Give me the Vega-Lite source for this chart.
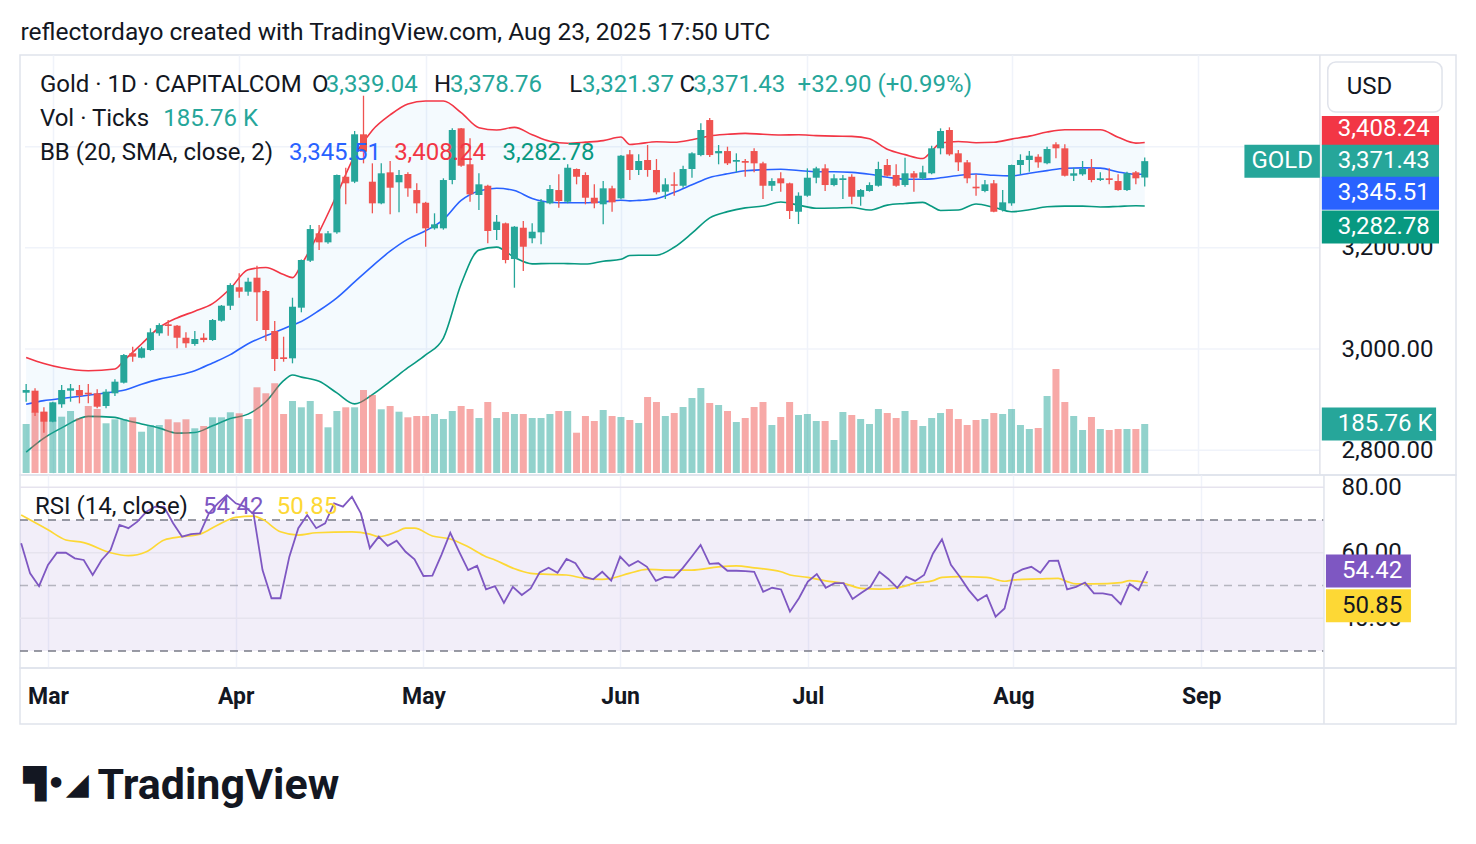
{
  "$schema": "https://vega.github.io/schema/vega-lite/v6.json",
  "background": "#ffffff",
  "padding": {"left": 18, "top": 20, "right": 20, "bottom": 20},
  "bounds": "flush",
  "title": {"text": "reflectordayo created with TradingView.com, Aug 23, 2025 17:50 UTC", "anchor": "start", "font": "Roboto", "fontSize": 24.5, "fontWeight": "normal", "color": "#131722", "offset": 8, "dx": 2},
  "config": {
    "view": {"stroke": "#e0e3eb", "strokeWidth": 1.5},
    "text": {"font": "Roboto", "fontSize": 24, "align": "left", "baseline": "middle"},
    "axis": {"labelFont": "Roboto", "titleFont": "Roboto"}
  },
  "datasets": {
    "one": [{}],
    "bars": [
      {"i":-3,"o":2913.6,"h":2930.8,"l":2895.8,"c":2918.9,"v":185.7,"r":62.9},
      {"i":-2,"o":2917.6,"h":2922.3,"l":2867.5,"c":2874.1,"v":232.3,"r":53.7},
      {"i":-1,"o":2876.0,"h":2884.7,"l":2834.5,"c":2856.3,"v":232.3,"r":49.8},
      {"i":0,"o":2856.3,"h":2895.5,"l":2855.0,"c":2894.6,"v":200.9,"r":56.3},
      {"i":1,"o":2890.7,"h":2928.8,"l":2884.0,"c":2918.9,"v":213.4,"r":60.0},
      {"i":2,"o":2917.6,"h":2930.8,"l":2895.8,"c":2922.3,"v":235.0,"r":60.0},
      {"i":3,"o":2918.9,"h":2928.8,"l":2892.6,"c":2907.7,"v":207.3,"r":58.3},
      {"i":4,"o":2913.6,"h":2930.8,"l":2892.6,"c":2910.4,"v":253.9,"r":57.8},
      {"i":5,"o":2912.4,"h":2920.3,"l":2882.8,"c":2885.9,"v":242.6,"r":53.2},
      {"i":6,"o":2887.3,"h":2920.3,"l":2882.8,"c":2915.6,"v":188.4,"r":57.8},
      {"i":7,"o":2912.4,"h":2940.1,"l":2907.1,"c":2935.4,"v":203.5,"r":60.8},
      {"i":8,"o":2933.4,"h":2990.1,"l":2931.8,"c":2988.1,"v":203.5,"r":68.5},
      {"i":9,"o":2991.5,"h":3004.5,"l":2974.9,"c":2984.8,"v":211.1,"r":67.5},
      {"i":10,"o":2982.8,"h":3004.5,"l":2981.6,"c":3001.4,"v":156.5,"r":69.5},
      {"i":11,"o":2998.0,"h":3040.9,"l":2996.5,"c":3033.0,"v":181.9,"r":72.5},
      {"i":12,"o":3031.0,"h":3050.8,"l":3026.3,"c":3047.4,"v":181.9,"r":74.1},
      {"i":13,"o":3048.8,"h":3057.3,"l":3026.3,"c":3045.5,"v":203.5,"r":73.9},
      {"i":14,"o":3046.1,"h":3047.4,"l":3001.4,"c":3022.3,"v":192.2,"r":69.0},
      {"i":15,"o":3022.3,"h":3033.0,"l":3002.6,"c":3011.3,"v":203.5,"r":64.9},
      {"i":16,"o":3009.9,"h":3035.6,"l":3006.5,"c":3019.8,"v":169.4,"r":65.7},
      {"i":17,"o":3022.3,"h":3031.0,"l":3013.2,"c":3017.8,"v":178.1,"r":65.9},
      {"i":18,"o":3017.8,"h":3059.3,"l":3016.0,"c":3057.3,"v":211.1,"r":72.0},
      {"i":19,"o":3056.0,"h":3087.0,"l":3054.0,"c":3085.6,"v":211.1,"r":75.1},
      {"i":20,"o":3085.6,"h":3129.9,"l":3077.1,"c":3126.5,"v":230.1,"r":77.6},
      {"i":21,"o":3122.0,"h":3149.7,"l":3101.4,"c":3113.3,"v":226.3,"r":75.1},
      {"i":22,"o":3113.3,"h":3141.0,"l":3105.4,"c":3133.1,"v":204.7,"r":74.1},
      {"i":23,"o":3141.0,"h":3164.7,"l":3055.4,"c":3112.1,"v":324.8,"r":71.8},
      {"i":24,"o":3114.7,"h":3116.6,"l":3015.8,"c":3037.6,"v":302.1,"r":54.7},
      {"i":25,"o":3035.6,"h":3055.4,"l":2956.5,"c":2980.2,"v":340.0,"r":46.1},
      {"i":26,"o":2983.6,"h":3024.3,"l":2974.9,"c":2980.2,"v":223.6,"r":46.1},
      {"i":27,"o":2981.6,"h":3101.4,"l":2971.7,"c":3083.6,"v":272.9,"r":58.8},
      {"i":28,"o":3081.7,"h":3177.0,"l":3072.6,"c":3176.0,"v":249.0,"r":67.5},
      {"i":29,"o":3174.6,"h":3245.1,"l":3172.0,"c":3237.2,"v":272.9,"r":71.5},
      {"i":30,"o":3228.7,"h":3245.1,"l":3195.7,"c":3210.9,"v":223.6,"r":67.5},
      {"i":31,"o":3210.9,"h":3233.3,"l":3208.0,"c":3228.7,"v":173.2,"r":69.0},
      {"i":32,"o":3230.7,"h":3345.0,"l":3228.0,"c":3344.0,"v":235.0,"r":75.1},
      {"i":33,"o":3340.6,"h":3358.4,"l":3286.1,"c":3327.6,"v":249.0,"r":74.1},
      {"i":34,"o":3330.8,"h":3431.0,"l":3328.0,"c":3424.5,"v":249.0,"r":77.1},
      {"i":35,"o":3424.5,"h":3500.8,"l":3367.1,"c":3390.1,"v":314.6,"r":72.0},
      {"i":36,"o":3330.8,"h":3367.1,"l":3268.3,"c":3288.0,"v":295.6,"r":61.4},
      {"i":37,"o":3288.0,"h":3367.1,"l":3286.0,"c":3347.4,"v":241.4,"r":64.9},
      {"i":38,"o":3349.3,"h":3371.7,"l":3266.3,"c":3318.9,"v":253.9,"r":62.1},
      {"i":39,"o":3329.6,"h":3353.9,"l":3270.3,"c":3344.0,"v":232.3,"r":63.7},
      {"i":40,"o":3346.0,"h":3349.3,"l":3301.1,"c":3317.7,"v":211.1,"r":60.3},
      {"i":41,"o":3314.3,"h":3327.6,"l":3268.3,"c":3288.0,"v":216.0,"r":58.0},
      {"i":42,"o":3289.2,"h":3291.0,"l":3202.2,"c":3238.6,"v":216.0,"r":52.9},
      {"i":43,"o":3238.6,"h":3268.3,"l":3236.0,"c":3246.5,"v":223.6,"r":53.0},
      {"i":44,"o":3238.6,"h":3337.5,"l":3236.0,"c":3334.1,"v":204.7,"r":59.3},
      {"i":45,"o":3334.1,"h":3436.3,"l":3325.6,"c":3433.0,"v":235.0,"r":66.1},
      {"i":46,"o":3436.3,"h":3437.0,"l":3360.4,"c":3362.4,"v":253.9,"r":60.3},
      {"i":47,"o":3365.2,"h":3416.5,"l":3291.2,"c":3305.8,"v":242.6,"r":54.7},
      {"i":48,"o":3304.5,"h":3347.4,"l":3274.8,"c":3325.6,"v":208.5,"r":56.0},
      {"i":49,"o":3322.8,"h":3325.0,"l":3209.0,"c":3233.3,"v":269.1,"r":48.8},
      {"i":50,"o":3235.3,"h":3264.9,"l":3215.5,"c":3251.7,"v":208.5,"r":49.8},
      {"i":51,"o":3248.5,"h":3250.0,"l":3169.4,"c":3176.0,"v":231.2,"r":44.7},
      {"i":52,"o":3177.9,"h":3243.0,"l":3121.2,"c":3241.8,"v":223.6,"r":49.6},
      {"i":53,"o":3239.8,"h":3253.1,"l":3154.2,"c":3202.2,"v":223.6,"r":47.1},
      {"i":54,"o":3218.9,"h":3248.5,"l":3209.0,"c":3231.9,"v":208.5,"r":49.1},
      {"i":55,"o":3230.7,"h":3296.6,"l":3207.0,"c":3291.2,"v":208.5,"r":54.0},
      {"i":56,"o":3288.0,"h":3324.2,"l":3286.0,"c":3316.3,"v":223.6,"r":55.4},
      {"i":57,"o":3314.3,"h":3345.4,"l":3279.3,"c":3292.6,"v":235.0,"r":53.9},
      {"i":58,"o":3291.2,"h":3365.2,"l":3288.0,"c":3358.4,"v":235.0,"r":58.1},
      {"i":59,"o":3355.9,"h":3357.0,"l":3325.6,"c":3340.6,"v":152.7,"r":56.8},
      {"i":60,"o":3344.0,"h":3349.3,"l":3286.1,"c":3299.1,"v":216.0,"r":52.7},
      {"i":61,"o":3299.1,"h":3325.6,"l":3278.2,"c":3288.0,"v":197.1,"r":51.9},
      {"i":62,"o":3286.1,"h":3332.1,"l":3246.5,"c":3317.7,"v":238.8,"r":54.2},
      {"i":63,"o":3317.7,"h":3322.8,"l":3271.4,"c":3290.0,"v":216.0,"r":51.5},
      {"i":64,"o":3297.9,"h":3383.5,"l":3296.0,"c":3382.2,"v":212.2,"r":58.8},
      {"i":65,"o":3384.9,"h":3393.4,"l":3334.1,"c":3353.9,"v":200.9,"r":56.0},
      {"i":66,"o":3353.9,"h":3384.9,"l":3344.0,"c":3371.7,"v":189.5,"r":57.5},
      {"i":67,"o":3373.7,"h":3403.3,"l":3340.6,"c":3353.9,"v":288.0,"r":55.7},
      {"i":68,"o":3353.9,"h":3375.6,"l":3305.8,"c":3309.8,"v":269.1,"r":51.4},
      {"i":69,"o":3311.0,"h":3337.5,"l":3296.6,"c":3325.6,"v":216.0,"r":52.6},
      {"i":70,"o":3325.6,"h":3349.3,"l":3303.1,"c":3322.8,"v":227.4,"r":52.4},
      {"i":71,"o":3322.8,"h":3362.4,"l":3318.9,"c":3355.9,"v":250.1,"r":55.3},
      {"i":72,"o":3355.9,"h":3388.9,"l":3338.7,"c":3386.9,"v":284.3,"r":58.8},
      {"i":73,"o":3383.5,"h":3446.2,"l":3381.0,"c":3433.0,"v":322.2,"r":62.4},
      {"i":74,"o":3452.7,"h":3456.7,"l":3379.6,"c":3383.5,"v":265.3,"r":56.6},
      {"i":75,"o":3386.9,"h":3403.3,"l":3365.2,"c":3391.4,"v":257.7,"r":56.8},
      {"i":76,"o":3391.4,"h":3400.0,"l":3363.8,"c":3367.1,"v":235.0,"r":54.5},
      {"i":77,"o":3370.3,"h":3386.9,"l":3349.3,"c":3373.7,"v":193.3,"r":54.5},
      {"i":78,"o":3371.7,"h":3375.6,"l":3340.6,"c":3368.3,"v":208.5,"r":54.4},
      {"i":79,"o":3391.4,"h":3396.8,"l":3349.3,"c":3367.1,"v":250.1,"r":54.2},
      {"i":80,"o":3367.1,"h":3370.3,"l":3296.6,"c":3322.8,"v":269.1,"r":48.1},
      {"i":81,"o":3322.8,"h":3337.5,"l":3312.4,"c":3332.1,"v":181.9,"r":49.3},
      {"i":82,"o":3337.5,"h":3349.3,"l":3311.0,"c":3327.6,"v":212.2,"r":48.8},
      {"i":83,"o":3327.6,"h":3329.0,"l":3257.0,"c":3272.8,"v":269.1,"r":42.0},
      {"i":84,"o":3271.4,"h":3309.8,"l":3247.1,"c":3303.1,"v":219.8,"r":46.1},
      {"i":85,"o":3303.1,"h":3357.2,"l":3301.0,"c":3338.7,"v":223.6,"r":51.2},
      {"i":86,"o":3338.7,"h":3360.4,"l":3327.6,"c":3357.2,"v":197.1,"r":53.5},
      {"i":87,"o":3357.2,"h":3365.2,"l":3312.4,"c":3324.2,"v":197.1,"r":49.3},
      {"i":88,"o":3324.2,"h":3345.4,"l":3322.0,"c":3337.5,"v":125.1,"r":50.7},
      {"i":89,"o":3334.1,"h":3344.0,"l":3296.6,"c":3337.5,"v":231.2,"r":50.7},
      {"i":90,"o":3340.6,"h":3345.4,"l":3286.1,"c":3301.1,"v":219.8,"r":45.9},
      {"i":91,"o":3301.1,"h":3316.3,"l":3283.3,"c":3314.3,"v":204.7,"r":47.8},
      {"i":92,"o":3312.4,"h":3329.6,"l":3311.0,"c":3324.2,"v":185.7,"r":49.6},
      {"i":93,"o":3322.8,"h":3370.3,"l":3321.0,"c":3355.9,"v":242.6,"r":54.2},
      {"i":94,"o":3363.8,"h":3375.6,"l":3341.0,"c":3342.6,"v":227.4,"r":52.0},
      {"i":95,"o":3344.0,"h":3365.2,"l":3320.9,"c":3322.8,"v":208.5,"r":49.3},
      {"i":96,"o":3324.2,"h":3378.2,"l":3320.9,"c":3347.4,"v":235.0,"r":52.7},
      {"i":97,"o":3347.4,"h":3351.9,"l":3311.0,"c":3338.7,"v":200.9,"r":51.4},
      {"i":98,"o":3337.5,"h":3362.4,"l":3334.1,"c":3349.3,"v":178.1,"r":53.2},
      {"i":99,"o":3347.4,"h":3401.9,"l":3345.4,"c":3396.8,"v":208.5,"r":59.8},
      {"i":100,"o":3396.8,"h":3436.3,"l":3384.9,"c":3431.0,"v":227.4,"r":64.1},
      {"i":101,"o":3433.0,"h":3438.3,"l":3382.2,"c":3384.9,"v":242.6,"r":56.3},
      {"i":102,"o":3386.9,"h":3393.4,"l":3351.9,"c":3369.1,"v":204.7,"r":52.7},
      {"i":103,"o":3369.1,"h":3373.7,"l":3327.6,"c":3337.5,"v":181.9,"r":48.6},
      {"i":104,"o":3320.9,"h":3345.4,"l":3303.1,"c":3317.7,"v":200.9,"r":45.4},
      {"i":105,"o":3312.4,"h":3334.1,"l":3309.8,"c":3325.6,"v":204.7,"r":47.1},
      {"i":106,"o":3327.6,"h":3334.1,"l":3270.3,"c":3271.4,"v":227.4,"r":40.5},
      {"i":107,"o":3274.8,"h":3314.3,"l":3272.0,"c":3290.0,"v":223.6,"r":43.0},
      {"i":108,"o":3288.0,"h":3364.5,"l":3283.3,"c":3363.8,"v":242.6,"r":53.5},
      {"i":109,"o":3363.8,"h":3384.9,"l":3345.4,"c":3373.7,"v":181.9,"r":54.9},
      {"i":110,"o":3373.7,"h":3391.4,"l":3350.5,"c":3382.2,"v":166.8,"r":55.7},
      {"i":111,"o":3380.2,"h":3384.9,"l":3358.4,"c":3369.1,"v":170.6,"r":53.9},
      {"i":112,"o":3367.1,"h":3400.0,"l":3365.2,"c":3395.4,"v":291.8,"r":57.5},
      {"i":113,"o":3404.7,"h":3408.6,"l":3377.0,"c":3396.8,"v":394.2,"r":57.6},
      {"i":114,"o":3396.8,"h":3404.7,"l":3341.0,"c":3342.6,"v":269.1,"r":48.8},
      {"i":115,"o":3342.6,"h":3358.4,"l":3332.1,"c":3347.4,"v":216.0,"r":49.6},
      {"i":116,"o":3345.4,"h":3371.7,"l":3342.6,"c":3355.9,"v":163.0,"r":50.9},
      {"i":117,"o":3357.2,"h":3375.6,"l":3329.6,"c":3334.1,"v":212.2,"r":47.6},
      {"i":118,"o":3334.1,"h":3349.3,"l":3332.1,"c":3337.5,"v":166.8,"r":47.6},
      {"i":119,"o":3337.5,"h":3357.2,"l":3325.6,"c":3334.1,"v":163.0,"r":47.1},
      {"i":120,"o":3332.1,"h":3345.4,"l":3313.0,"c":3314.3,"v":166.8,"r":44.3},
      {"i":121,"o":3314.3,"h":3350.5,"l":3312.4,"c":3347.4,"v":166.8,"r":50.5},
      {"i":122,"o":3349.3,"h":3351.9,"l":3325.6,"c":3337.5,"v":166.8,"r":48.6},
      {"i":123,"o":3339.04,"h":3378.76,"l":3321.37,"c":3371.43,"v":185.76,"r":54.42}
    ],
    "bands": [
      {"i":-3,"up":2983.2,"mid":2890.7,"lo":2796.0},
      {"i":-1,"up":2971.3,"mid":2898.0,"lo":2823.8},
      {"i":1,"up":2962.8,"mid":2902.1,"lo":2844.0},
      {"i":4,"up":2957.1,"mid":2908.7,"lo":2866.8},
      {"i":7,"up":2960.5,"mid":2915.6,"lo":2864.8},
      {"i":8,"up":2976.9,"mid":2918.5,"lo":2860.2},
      {"i":10,"up":3009.9,"mid":2930.4,"lo":2851.9},
      {"i":12,"up":3042.5,"mid":2940.5,"lo":2843.6},
      {"i":14,"up":3061.5,"mid":2947.6,"lo":2833.7},
      {"i":16,"up":3074.7,"mid":2957.1,"lo":2834.9},
      {"i":18,"up":3089.6,"mid":2972.5,"lo":2848.2},
      {"i":20,"up":3119.6,"mid":2988.9,"lo":2862.4},
      {"i":22,"up":3156.6,"mid":3010.5,"lo":2871.3},
      {"i":24,"up":3161.3,"mid":3026.1,"lo":2895.8},
      {"i":26,"up":3147.1,"mid":3040.1,"lo":2937.3},
      {"i":27,"up":3141.2,"mid":3047.3,"lo":2948.6},
      {"i":28,"up":3166.7,"mid":3054.4,"lo":2944.4},
      {"i":30,"up":3231.3,"mid":3076.1,"lo":2936.1},
      {"i":32,"up":3305.2,"mid":3101.2,"lo":2913.2},
      {"i":34,"up":3382.2,"mid":3132.7,"lo":2891.5},
      {"i":36,"up":3432.6,"mid":3163.9,"lo":2909.7},
      {"i":38,"up":3462.8,"mid":3193.4,"lo":2935.9},
      {"i":40,"up":3484.6,"mid":3217.3,"lo":2963.0},
      {"i":42,"up":3490.3,"mid":3233.7,"lo":2988.3},
      {"i":44,"up":3490.3,"mid":3255.8,"lo":3021.7},
      {"i":46,"up":3467.4,"mid":3293.8,"lo":3128.5},
      {"i":48,"up":3437.5,"mid":3312.6,"lo":3195.5},
      {"i":50,"up":3433.0,"mid":3317.7,"lo":3201.5},
      {"i":52,"up":3438.3,"mid":3313.2,"lo":3181.1},
      {"i":54,"up":3423.7,"mid":3297.5,"lo":3168.4},
      {"i":56,"up":3410.6,"mid":3290.2,"lo":3169.2},
      {"i":58,"up":3406.9,"mid":3289.2,"lo":3168.8},
      {"i":60,"up":3409.0,"mid":3289.2,"lo":3168.2},
      {"i":62,"up":3412.0,"mid":3291.0,"lo":3173.6},
      {"i":64,"up":3419.1,"mid":3294.2,"lo":3177.3},
      {"i":65,"up":3404.3,"mid":3292.8,"lo":3185.0},
      {"i":66,"up":3405.9,"mid":3293.8,"lo":3185.4},
      {"i":68,"up":3409.8,"mid":3297.3,"lo":3185.4},
      {"i":70,"up":3408.8,"mid":3309.8,"lo":3201.1},
      {"i":72,"up":3413.8,"mid":3324.6,"lo":3228.9},
      {"i":74,"up":3421.3,"mid":3339.3,"lo":3259.4},
      {"i":76,"up":3424.5,"mid":3346.4,"lo":3271.6},
      {"i":78,"up":3426.4,"mid":3352.5,"lo":3279.1},
      {"i":80,"up":3424.5,"mid":3354.5,"lo":3282.7},
      {"i":82,"up":3423.1,"mid":3355.3,"lo":3290.6},
      {"i":84,"up":3423.7,"mid":3352.9,"lo":3284.5},
      {"i":86,"up":3421.9,"mid":3350.5,"lo":3278.4},
      {"i":88,"up":3420.9,"mid":3350.5,"lo":3278.8},
      {"i":90,"up":3420.5,"mid":3349.3,"lo":3279.7},
      {"i":92,"up":3415.6,"mid":3345.4,"lo":3274.8},
      {"i":94,"up":3394.8,"mid":3339.5,"lo":3284.5},
      {"i":96,"up":3384.3,"mid":3335.5,"lo":3287.7},
      {"i":98,"up":3376.6,"mid":3335.5,"lo":3290.0},
      {"i":99,"up":3391.4,"mid":3336.3,"lo":3282.1},
      {"i":100,"up":3407.3,"mid":3338.5,"lo":3274.0},
      {"i":102,"up":3410.4,"mid":3343.0,"lo":3274.8},
      {"i":104,"up":3407.9,"mid":3346.0,"lo":3286.7},
      {"i":106,"up":3408.8,"mid":3343.4,"lo":3280.1},
      {"i":108,"up":3415.0,"mid":3342.4,"lo":3271.4},
      {"i":110,"up":3420.9,"mid":3347.4,"lo":3275.2},
      {"i":112,"up":3429.0,"mid":3352.7,"lo":3281.3},
      {"i":114,"up":3433.6,"mid":3357.4,"lo":3282.5},
      {"i":116,"up":3433.6,"mid":3358.2,"lo":3282.5},
      {"i":118,"up":3433.6,"mid":3357.6,"lo":3280.9},
      {"i":120,"up":3418.7,"mid":3350.1,"lo":3281.9},
      {"i":122,"up":3407.1,"mid":3345.4,"lo":3283.1},
      {"i":123,"up":3408.24,"mid":3345.51,"lo":3282.78}
    ],
    "rsima": [
      {"i":-3,"m":71.5},{"i":0,"m":67.0},{"i":2,"m":63.9},{"i":4,"m":63.1},{"i":7,"m":60.0},
      {"i":9,"m":59.1},{"i":11,"m":60.3},{"i":13,"m":63.9},{"i":15,"m":64.9},{"i":17,"m":65.7},
      {"i":19,"m":68.5},{"i":21,"m":70.8},{"i":23,"m":71.2},{"i":24,"m":70.2},{"i":26,"m":66.4},
      {"i":28,"m":65.4},{"i":30,"m":66.1},{"i":34,"m":66.4},{"i":36,"m":65.7},{"i":37,"m":64.9},
      {"i":39,"m":66.4},{"i":40,"m":67.5},{"i":41,"m":67.5},{"i":43,"m":65.1},{"i":45,"m":64.2},
      {"i":47,"m":61.8},{"i":49,"m":58.8},{"i":50,"m":57.8},{"i":52,"m":55.3},{"i":54,"m":53.7},
      {"i":56,"m":53.4},{"i":58,"m":53.2},{"i":60,"m":52.2},{"i":62,"m":51.9},{"i":63,"m":52.2},
      {"i":65,"m":53.7},{"i":67,"m":54.9},{"i":70,"m":54.7},{"i":72,"m":54.7},{"i":75,"m":55.7},
      {"i":77,"m":56.0},{"i":79,"m":55.4},{"i":82,"m":54.2},{"i":83,"m":53.2},{"i":85,"m":52.5},
      {"i":87,"m":51.4},{"i":89,"m":50.7},{"i":91,"m":49.1},{"i":93,"m":48.9},{"i":95,"m":49.3},
      {"i":97,"m":50.7},{"i":99,"m":51.5},{"i":100,"m":52.5},{"i":102,"m":52.7},{"i":105,"m":52.5},
      {"i":107,"m":51.3},{"i":108,"m":51.7},{"i":111,"m":52.0},{"i":113,"m":52.2},{"i":114,"m":51.2},
      {"i":115,"m":50.5},{"i":117,"m":50.5},{"i":120,"m":50.9},{"i":121,"m":51.5},{"i":123,"m":50.85}
    ],
    "priceTicks": [{"p":2800},{"p":3000},{"p":3200},{"p":3400}],
    "rsiTicks": [{"g":40},{"g":60},{"g":80}]
  },
  "spacing": 0,
  "vconcat": [
    {
      "width": 1436,
      "height": 420,
      "resolve": {"scale": {"y": "independent"}},
      "layer": [
        {
          "layer": [
            {
              "data": {"name": "priceTicks"},
              "mark": {"type": "rule", "color": "#f0f3fa", "strokeWidth": 1.5},
              "encoding": {
                "x": {"datum": -3.13, "scale": {"domain": [-3.13, 157.5], "nice": false, "zero": false},
                      "axis": {"values": [0, 21, 42, 64, 85, 108, 129], "grid": true, "gridColor": "#f0f3fa", "gridWidth": 1.5, "labels": false, "ticks": false, "domain": false, "title": null}},
                "x2": {"datum": 142.73},
                "y": {"field": "p", "type": "quantitative", "title": null,
                      "scale": {"domain": [2750.9, 3581.3], "nice": false, "zero": false},
                      "axis": {"orient": "right", "offset": -132, "values": [2800, 3000, 3200, 3400], "format": ",.2f", "grid": false, "ticks": false, "tickSize": 0, "domain": false, "labelPadding": 17, "labelFontSize": 24, "labelColor": "#131722", "title": null}}
              }
            },
            {
              "data": {"name": "bands"},
              "mark": {"type": "area", "color": "#2196f3", "opacity": 0.05, "interpolate": "monotone", "clip": true},
              "encoding": {
                "x": {"field": "i", "type": "quantitative"},
                "y": {"field": "up", "type": "quantitative", "title": null, "scale": {"domain": [2750.9, 3581.3], "nice": false, "zero": false}},
                "y2": {"field": "lo"}
              }
            },
            {
              "data": {"name": "bands"},
              "mark": {"type": "line", "color": "#f23645", "strokeWidth": 1.6, "interpolate": "monotone", "clip": true},
              "encoding": {"x": {"field": "i", "type": "quantitative"}, "y": {"field": "up", "type": "quantitative", "title": null}}
            },
            {
              "data": {"name": "bands"},
              "mark": {"type": "line", "color": "#2962ff", "strokeWidth": 1.6, "interpolate": "monotone", "clip": true},
              "encoding": {"x": {"field": "i", "type": "quantitative"}, "y": {"field": "mid", "type": "quantitative", "title": null}}
            },
            {
              "data": {"name": "bands"},
              "mark": {"type": "line", "color": "#089981", "strokeWidth": 1.6, "interpolate": "monotone", "clip": true},
              "encoding": {"x": {"field": "i", "type": "quantitative"}, "y": {"field": "lo", "type": "quantitative", "title": null}}
            }
          ]
        },
        {
          "layer": [
            {
              "data": {"name": "bars"},
              "mark": {"type": "bar", "size": 7, "opacity": 0.5, "clip": true},
              "encoding": {
                "x": {"field": "i", "type": "quantitative"},
                "y": {"field": "v", "type": "quantitative", "title": null, "axis": null,
                      "scale": {"domain": [-7.58, 1584.2], "nice": false, "zero": false}},
                "color": {"condition": {"test": "datum.c >= datum.o", "value": "#26a69a"}, "value": "#ef5350"}
              }
            },
            {
              "data": {"name": "one"},
              "mark": {"type": "rule", "color": "#26a69a", "strokeWidth": 33},
              "encoding": {"x": {"datum": 142.95}, "x2": {"datum": 155.82}, "y": {"datum": 185.76}}
            },
            {
              "data": {"name": "one"},
              "mark": {"type": "text", "text": "185.76 K", "color": "#ffffff"},
              "encoding": {"x": {"datum": 144.74}, "y": {"datum": 185.76}}
            }
          ]
        },
        {
          "layer": [
            {
              "data": {"name": "bars"},
              "mark": {"type": "rule", "strokeWidth": 1.3, "clip": true},
              "encoding": {
                "x": {"field": "i", "type": "quantitative"},
                "y": {"field": "l", "type": "quantitative", "title": null, "axis": null,
                      "scale": {"domain": [2750.9, 3581.3], "nice": false, "zero": false}},
                "y2": {"field": "h"},
                "color": {"condition": {"test": "datum.c >= datum.o", "value": "#26a69a"}, "value": "#ef5350"}
              }
            },
            {
              "data": {"name": "bars"},
              "mark": {"type": "bar", "size": 7, "clip": true},
              "encoding": {
                "x": {"field": "i", "type": "quantitative"},
                "y": {"field": "o", "type": "quantitative", "title": null},
                "y2": {"field": "c"},
                "color": {"condition": {"test": "datum.c >= datum.o", "value": "#26a69a"}, "value": "#ef5350"}
              }
            },
            {"data": {"name": "one"}, "mark": {"type": "rule", "color": "#e0e3eb", "strokeWidth": 1.5}, "encoding": {"x": {"datum": 142.73}}},
            {"data": {"name": "one"}, "mark": {"type": "text", "text": "Gold · 1D · CAPITALCOM", "color": "#131722"}, "encoding": {"x": {"datum": -1.45}, "y": {"datum": 3521.9}}},
            {"data": {"name": "one"}, "mark": {"type": "text", "text": "O", "color": "#131722"}, "encoding": {"x": {"datum": 29.19}, "y": {"datum": 3521.9}}},
            {"data": {"name": "one"}, "mark": {"type": "text", "text": "3,339.04", "color": "#26a69a"}, "encoding": {"x": {"datum": 30.76}, "y": {"datum": 3521.9}}},
            {"data": {"name": "one"}, "mark": {"type": "text", "text": "H", "color": "#131722"}, "encoding": {"x": {"datum": 42.95}, "y": {"datum": 3521.9}}},
            {"data": {"name": "one"}, "mark": {"type": "text", "text": "3,378.76", "color": "#26a69a"}, "encoding": {"x": {"datum": 44.74}, "y": {"datum": 3521.9}}},
            {"data": {"name": "one"}, "mark": {"type": "text", "text": "L", "color": "#131722"}, "encoding": {"x": {"datum": 58.17}, "y": {"datum": 3521.9}}},
            {"data": {"name": "one"}, "mark": {"type": "text", "text": "3,321.37", "color": "#26a69a"}, "encoding": {"x": {"datum": 59.62}, "y": {"datum": 3521.9}}},
            {"data": {"name": "one"}, "mark": {"type": "text", "text": "C", "color": "#131722"}, "encoding": {"x": {"datum": 70.6}, "y": {"datum": 3521.9}}},
            {"data": {"name": "one"}, "mark": {"type": "text", "text": "3,371.43", "color": "#26a69a"}, "encoding": {"x": {"datum": 72.15}, "y": {"datum": 3521.9}}},
            {"data": {"name": "one"}, "mark": {"type": "text", "text": "+32.90 (+0.99%)", "color": "#26a69a"}, "encoding": {"x": {"datum": 83.9}, "y": {"datum": 3521.9}}},
            {"data": {"name": "one"}, "mark": {"type": "text", "text": "Vol · Ticks", "color": "#131722"}, "encoding": {"x": {"datum": -1.45}, "y": {"datum": 3454.7}}},
            {"data": {"name": "one"}, "mark": {"type": "text", "text": "185.76 K", "color": "#26a69a"}, "encoding": {"x": {"datum": 12.45}, "y": {"datum": 3454.7}}},
            {"data": {"name": "one"}, "mark": {"type": "text", "text": "BB (20, SMA, close, 2)", "color": "#131722"}, "encoding": {"x": {"datum": -1.45}, "y": {"datum": 3387.5}}},
            {"data": {"name": "one"}, "mark": {"type": "text", "text": "3,345.51", "color": "#2962ff"}, "encoding": {"x": {"datum": 26.6}, "y": {"datum": 3387.5}}},
            {"data": {"name": "one"}, "mark": {"type": "text", "text": "3,408.24", "color": "#f23645"}, "encoding": {"x": {"datum": 38.45}, "y": {"datum": 3387.5}}},
            {"data": {"name": "one"}, "mark": {"type": "text", "text": "3,282.78", "color": "#089981"}, "encoding": {"x": {"datum": 50.65}, "y": {"datum": 3387.5}}},
            {"data": {"name": "one"}, "mark": {"type": "rule", "color": "#26a69a", "strokeWidth": 33}, "encoding": {"x": {"datum": 134.23}, "x2": {"datum": 142.73}, "y": {"datum": 3371.43}}},
            {"data": {"name": "one"}, "mark": {"type": "text", "text": "GOLD", "color": "#ffffff", "align": "center"}, "encoding": {"x": {"datum": 138.48}, "y": {"datum": 3371.43}}},
            {"data": {"name": "one"}, "mark": {"type": "rule", "color": "#f23645", "strokeWidth": 29, "yOffset": -12}, "encoding": {"x": {"datum": 142.95}, "x2": {"datum": 156.15}, "y": {"datum": 3408.24}}},
            {"data": {"name": "one"}, "mark": {"type": "text", "text": "3,408.24", "color": "#ffffff", "yOffset": -14}, "encoding": {"x": {"datum": 144.74}, "y": {"datum": 3408.24}}},
            {"data": {"name": "one"}, "mark": {"type": "rule", "color": "#26a69a", "strokeWidth": 33}, "encoding": {"x": {"datum": 142.95}, "x2": {"datum": 156.15}, "y": {"datum": 3371.43}}},
            {"data": {"name": "one"}, "mark": {"type": "text", "text": "3,371.43", "color": "#ffffff"}, "encoding": {"x": {"datum": 144.74}, "y": {"datum": 3371.43}}},
            {"data": {"name": "one"}, "mark": {"type": "rule", "color": "#2962ff", "strokeWidth": 33, "yOffset": 19}, "encoding": {"x": {"datum": 142.95}, "x2": {"datum": 156.15}, "y": {"datum": 3345.51}}},
            {"data": {"name": "one"}, "mark": {"type": "text", "text": "3,345.51", "color": "#ffffff", "yOffset": 19}, "encoding": {"x": {"datum": 144.74}, "y": {"datum": 3345.51}}},
            {"data": {"name": "one"}, "mark": {"type": "rule", "color": "#089981", "strokeWidth": 33, "yOffset": 21}, "encoding": {"x": {"datum": 142.95}, "x2": {"datum": 156.15}, "y": {"datum": 3282.78}}},
            {"data": {"name": "one"}, "mark": {"type": "text", "text": "3,282.78", "color": "#ffffff", "yOffset": 21}, "encoding": {"x": {"datum": 144.74}, "y": {"datum": 3282.78}}},
            {"data": {"name": "one"}, "mark": {"type": "rect", "fill": "#ffffff", "stroke": "#e0e3eb", "strokeWidth": 1.5, "cornerRadius": 8}, "encoding": {"x": {"datum": 143.62}, "x2": {"datum": 156.49}, "y": {"datum": 3567.4}, "y2": {"datum": 3468.5}}},
            {"data": {"name": "one"}, "mark": {"type": "text", "text": "USD", "color": "#131722"}, "encoding": {"x": {"datum": 145.75}, "y": {"datum": 3518.0}}}
          ]
        }
      ]
    },
    {
      "width": 1436,
      "height": 193,
      "layer": [
        {
          "data": {"name": "one"},
          "mark": {"type": "rect", "color": "#7e57c2", "opacity": 0.1},
          "encoding": {
            "x": {"datum": -3.13, "scale": {"domain": [-3.13, 157.5], "nice": false, "zero": false},
                  "axis": {"values": [0, 21, 42, 64, 85, 108, 129], "grid": true, "gridColor": "#f0f3fa", "gridWidth": 1.5, "labels": false, "ticks": false, "tickSize": 0, "domain": false,
                           "title": "TradingView", "titleFont": "Roboto", "titleFontSize": 43, "titleFontWeight": "bold", "titleColor": "#131722",
                           "titleX": 77, "titleY": 117, "titleAlign": "left", "titleAnchor": "start", "titleBaseline": "middle"}},
            "x2": {"datum": 142.73},
            "y": {"datum": 30, "scale": {"domain": [24.81, 83.74], "nice": false, "zero": false},
                  "axis": {"orient": "right", "offset": -132, "values": [40, 60, 80], "format": ".2f", "grid": false, "ticks": false, "tickSize": 0, "domain": false, "labelPadding": 17, "labelFontSize": 24, "labelColor": "#131722", "title": null}},
            "y2": {"datum": 70}
          }
        },
        {
          "data": {"name": "rsiTicks"},
          "mark": {"type": "rule", "color": "#e6e3ee", "strokeWidth": 1.5},
          "encoding": {"x": {"datum": -3.13}, "x2": {"datum": 142.73}, "y": {"field": "g", "type": "quantitative", "title": null}}
        },
        {"data": {"name": "one"}, "mark": {"type": "rule", "color": "#787b86", "strokeWidth": 1.5, "strokeDash": [8, 6]}, "encoding": {"x": {"datum": -3.13}, "x2": {"datum": 142.73}, "y": {"datum": 70}}},
        {"data": {"name": "one"}, "mark": {"type": "rule", "color": "#787b86", "strokeWidth": 1.5, "strokeDash": [8, 6], "opacity": 0.5}, "encoding": {"x": {"datum": -3.13}, "x2": {"datum": 142.73}, "y": {"datum": 50}}},
        {"data": {"name": "one"}, "mark": {"type": "rule", "color": "#787b86", "strokeWidth": 1.5, "strokeDash": [8, 6]}, "encoding": {"x": {"datum": -3.13}, "x2": {"datum": 142.73}, "y": {"datum": 30}}},
        {
          "data": {"name": "rsima"},
          "mark": {"type": "line", "color": "#fdd835", "strokeWidth": 1.7, "interpolate": "monotone", "clip": true},
          "encoding": {"x": {"field": "i", "type": "quantitative"}, "y": {"field": "m", "type": "quantitative", "title": null}}
        },
        {
          "data": {"name": "bars"},
          "mark": {"type": "line", "color": "#7e57c2", "strokeWidth": 1.8, "clip": true},
          "encoding": {"x": {"field": "i", "type": "quantitative"}, "y": {"field": "r", "type": "quantitative", "title": null}}
        },
        {"data": {"name": "one"}, "mark": {"type": "rule", "color": "#e0e3eb", "strokeWidth": 1.5}, "encoding": {"x": {"datum": 142.73}}},
        {"data": {"name": "one"}, "mark": {"type": "text", "text": "RSI (14, close)", "color": "#131722"}, "encoding": {"x": {"datum": -1.45}, "y": {"datum": 73.97}}},
        {"data": {"name": "one"}, "mark": {"type": "text", "text": "54.42", "color": "#7e57c2"}, "encoding": {"x": {"datum": 17.35}, "y": {"datum": 73.97}}},
        {"data": {"name": "one"}, "mark": {"type": "text", "text": "50.85", "color": "#fdd835"}, "encoding": {"x": {"datum": 25.6}, "y": {"datum": 73.97}}},
        {"data": {"name": "one"}, "mark": {"type": "rule", "color": "#7e57c2", "strokeWidth": 33}, "encoding": {"x": {"datum": 142.95}, "x2": {"datum": 152.46}, "y": {"datum": 54.42}}},
        {"data": {"name": "one"}, "mark": {"type": "text", "text": "54.42", "color": "#ffffff"}, "encoding": {"x": {"datum": 144.74}, "y": {"datum": 54.42}}},
        {"data": {"name": "one"}, "mark": {"type": "rule", "color": "#fdd835", "strokeWidth": 33, "yOffset": 23}, "encoding": {"x": {"datum": 142.95}, "x2": {"datum": 152.46}, "y": {"datum": 50.85}}},
        {"data": {"name": "one"}, "mark": {"type": "text", "text": "50.85", "color": "#131722", "yOffset": 23}, "encoding": {"x": {"datum": 144.74}, "y": {"datum": 50.85}}}
      ]
    },
    {
      "width": 1436,
      "height": 56,
      "data": {"name": "one"},
      "mark": {"type": "rule", "color": "#e0e3eb", "strokeWidth": 1.5},
      "encoding": {
        "x": {"datum": 142.73, "scale": {"domain": [-3.13, 157.5], "nice": false, "zero": false},
              "axis": {"orient": "bottom", "offset": -56, "values": [0, 21, 42, 64, 85, 108, 129],
                       "labelExpr": "datum.value == 0 ? 'Mar' : datum.value == 21 ? 'Apr' : datum.value == 42 ? 'May' : datum.value == 64 ? 'Jun' : datum.value == 85 ? 'Jul' : datum.value == 108 ? 'Aug' : 'Sep'",
                       "labelFontSize": 23, "labelFontWeight": "bold", "labelColor": "#131722", "labelPadding": 17, "labelFlush": false, "labelOverlap": false,
                       "ticks": false, "tickSize": 0, "domain": false, "grid": false,
                       "title": "▜•◢", "titleFont": "DejaVu Sans", "titleFontSize": 30, "titleFontWeight": "bold", "titleColor": "#131722",
                       "titleX": 3, "titleY": 116, "titleAlign": "left", "titleAnchor": "start", "titleBaseline": "middle"}}
      }
    }
  ]
}
